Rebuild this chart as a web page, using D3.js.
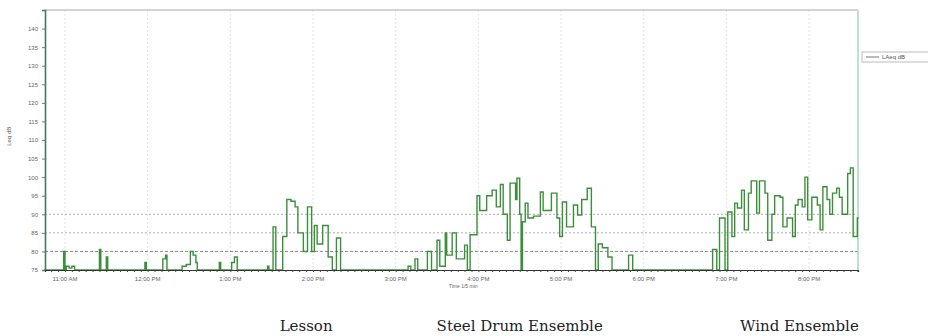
<!DOCTYPE html>
<html>
<head>
<meta charset="utf-8">
<script src="https://cdn.jsdelivr.net/npm/d3@7"></script>
<style>
  body { margin: 0; background: #fff; }
  svg { display: block; }
</style>
</head>
<body>
<div id="chart"></div>
<script>
// sound level readings, [clock time, dB]; 75 = floor of the meter range
const readings = [
  ['10:45', 75], ['10:59', 80], ['11:00', 75], ['11:01', 76], ['11:03', 75.5], ['11:05', 76], ['11:07', 75],
  ['11:25', 80.5], ['11:26', 75], ['11:30', 78.5], ['11:31', 75],
  ['11:58', 77], ['11:59', 75], ['12:11', 78], ['12:13', 79], ['12:14', 75],
  ['12:25', 76], ['12:28', 76.5], ['12:31', 80], ['12:33', 79], ['12:35', 77], ['12:36', 75],
  ['12:52', 77], ['12:53', 75], ['13:01', 77], ['13:03', 78.5], ['13:05', 75],
  ['13:27', 76], ['13:28', 75],
  // lesson
  ['13:31', 86.6], ['13:33', 75], ['13:38', 84], ['13:41', 94], ['13:44', 93.5], ['13:47', 92],
  ['13:49', 85], ['13:53', 80], ['13:56', 92], ['13:59', 80], ['14:01', 87], ['14:03', 82],
  ['14:07', 87], ['14:11', 78.5], ['14:14', 75], ['14:17', 83.6], ['14:20', 75],
  ['15:09', 76], ['15:11', 75], ['15:14', 78], ['15:16', 75], ['15:23', 80], ['15:26', 75],
  // steel drum ensemble
  ['15:30', 83], ['15:32', 76], ['15:36', 85], ['15:37', 79], ['15:41', 85], ['15:44', 78],
  ['15:50', 81.7], ['15:52', 75], ['15:54', 84.5], ['15:59', 95], ['16:01', 91], ['16:06', 95],
  ['16:10', 96.5], ['16:13', 92], ['16:16', 98], ['16:18', 90], ['16:21', 83], ['16:23', 98.4],
  ['16:27', 94], ['16:28', 99.7], ['16:30', 90], ['16:31', 75], ['16:32', 88], ['16:34', 93],
  ['16:36', 89], ['16:40', 89.5], ['16:45', 96], ['16:47', 91], ['16:53', 95.7], ['16:57', 89],
  ['16:59', 84], ['17:01', 93.3], ['17:04', 86.6], ['17:09', 92.5], ['17:12', 89.8], ['17:15', 94],
  ['17:19', 97], ['17:22', 86.6], ['17:25', 75], ['17:27', 82], ['17:30', 81], ['17:34', 78.5],
  ['17:37', 75], ['17:49', 79], ['17:52', 75],
  // wind ensemble
  ['18:50', 80.5], ['18:53', 75], ['18:55', 89], ['18:59', 75], ['19:01', 90.6], ['19:04', 84],
  ['19:06', 93], ['19:08', 91.7], ['19:11', 96.5], ['19:13', 85.8], ['19:16', 95.7], ['19:18', 99],
  ['19:22', 90.3], ['19:24', 99], ['19:28', 95.7], ['19:30', 83], ['19:33', 90], ['19:35', 95],
  ['19:39', 94.6], ['19:41', 86.6], ['19:44', 89], ['19:48', 84], ['19:50', 92.5], ['19:52', 94],
  ['19:55', 92], ['19:57', 100], ['19:59', 88.5], ['20:02', 94.6], ['20:06', 92.5], ['20:08', 85.8],
  ['20:10', 97.4], ['20:13', 94], ['20:15', 90], ['20:17', 95.7], ['20:20', 97], ['20:22', 94.6],
  ['20:24', 90], ['20:28', 101], ['20:30', 102.5], ['20:32', 84], ['20:35', 89], ['20:36', 89]
];

const timeRange = ['10:45:30', '20:35:30'];
const hourTicks = ['11:00', '12:00', '13:00', '14:00', '15:00', '16:00', '17:00', '18:00', '19:00', '20:00'];
const yTicks = [75, 80, 85, 90, 95, 100, 105, 110, 115, 120, 125, 130, 135, 140];
const yRange = [75, 145];
const limitLines = [80, 85, 90];
const sessions = [
  { name: 'Lesson', at: '13:55' },
  { name: 'Steel Drum Ensemble', at: '16:30' },
  { name: 'Wind Ensemble', at: '19:53' }
];

const width = 928;
const height = 336;
const margin = { top: 10, right: 70, bottom: 66, left: 45 };

const day = '2015-03-10 ';
const parseHM = d3.timeParse('%Y-%m-%d %H:%M');
const parseHMS = d3.timeParse('%Y-%m-%d %H:%M:%S');

const data = readings.map(d => ({ t: parseHM(day + d[0]), v: d[1] }));

const x = d3.scaleTime()
  .domain(timeRange.map(s => parseHMS(day + s)))
  .range([margin.left, width - margin.right]);

const y = d3.scaleLinear()
  .domain(yRange)
  .range([height - margin.bottom, margin.top]);

const svg = d3.select('#chart').append('svg')
  .attr('width', width)
  .attr('height', height)
  .style('font-family', 'Arial, Liberation Sans, sans-serif');

const x0 = margin.left;
const x1 = width - margin.right;
const yb = height - margin.bottom;

// vertical hour grid
svg.append('g')
  .selectAll('line')
  .data(hourTicks)
  .enter().append('line')
  .attr('x1', d => x(parseHM(day + d)))
  .attr('x2', d => x(parseHM(day + d)))
  .attr('y1', margin.top)
  .attr('y2', yb)
  .attr('stroke', '#e4e4e4')
  .attr('stroke-dasharray', '2,2');

// limit lines
svg.append('g')
  .selectAll('line')
  .data(limitLines)
  .enter().append('line')
  .attr('x1', x0)
  .attr('x2', x1)
  .attr('y1', d => y(d))
  .attr('y2', d => y(d))
  .attr('stroke', (d, i) => i === 0 ? '#888' : '#aaa')
  .attr('stroke-width', 1)
  .attr('stroke-dasharray', (d, i) => i === 0 ? '3,2' : '2,2');

// top border and right edge
svg.append('line')
  .attr('x1', x0).attr('x2', x1)
  .attr('y1', margin.top).attr('y2', margin.top)
  .attr('stroke', '#aaa');
svg.append('line')
  .attr('x1', x1).attr('x2', x1)
  .attr('y1', margin.top).attr('y2', yb)
  .attr('stroke', '#a6d6c6')
  .attr('stroke-width', 1.5);

// series
const line = d3.line()
  .x(d => x(d.t))
  .y(d => y(d.v))
  .curve(d3.curveStepAfter);

svg.append('path')
  .datum(data)
  .attr('fill', 'none')
  .attr('stroke', '#3b8f3b')
  .attr('stroke-width', 1.4)
  .attr('d', line);

// y axis
const yAxis = svg.append('g')
  .attr('transform', 'translate(' + x0 + ',0)')
  .call(d3.axisLeft(y).tickValues(yTicks).tickSize(3).tickPadding(4));
yAxis.select('.domain').attr('stroke', '#3f7a5c').attr('stroke-width', 1.6);
yAxis.selectAll('.tick line').attr('stroke', '#777');
yAxis.selectAll('text').attr('fill', '#666').style('font-size', '6px');

// x axis: baseline with dense minor ticks
const xAxis = svg.append('g')
  .attr('transform', 'translate(0,' + yb + ')')
  .call(d3.axisBottom(x).ticks(d3.timeMinute.every(5)).tickSize(2).tickFormat(''));
xAxis.select('.domain').attr('stroke', '#333').attr('stroke-width', 1.2);
xAxis.selectAll('.tick line').attr('stroke', '#444');

const fmt = d3.timeFormat('%-I:%M %p');
svg.append('g')
  .selectAll('text')
  .data(hourTicks)
  .enter().append('text')
  .attr('x', d => x(parseHM(day + d)))
  .attr('y', yb + 11)
  .attr('text-anchor', 'middle')
  .attr('fill', '#666')
  .style('font-size', '6px')
  .text(d => fmt(parseHM(day + d)));

// axis titles
svg.append('text')
  .attr('transform', 'translate(11,' + y(111) + ') rotate(-90)')
  .attr('text-anchor', 'middle')
  .attr('fill', '#555')
  .style('font-size', '6px')
  .text('Leq dB');

svg.append('text')
  .attr('x', x(parseHM(day + '15:49')))
  .attr('y', yb + 18)
  .attr('text-anchor', 'middle')
  .attr('fill', '#666')
  .style('font-size', '5px')
  .text('Time 1/5 min');

// legend
const lg = svg.append('g').attr('transform', 'translate(' + (x1 + 4) + ',52)');
lg.append('rect')
  .attr('width', 70).attr('height', 10)
  .attr('fill', '#fff')
  .attr('stroke', '#bbb');
lg.append('line')
  .attr('x1', 4).attr('x2', 17)
  .attr('y1', 5).attr('y2', 5)
  .attr('stroke', '#777');
lg.append('text')
  .attr('x', 20).attr('y', 7)
  .attr('fill', '#555')
  .style('font-size', '6px')
  .text('LAeq dB');

// session captions
svg.append('g')
  .selectAll('text')
  .data(sessions)
  .enter().append('text')
  .attr('x', d => x(parseHM(day + d.at)))
  .attr('y', 331)
  .attr('text-anchor', 'middle')
  .attr('fill', '#222')
  .style('font-family', 'DejaVu Serif, serif')
  .style('font-size', '15px')
  .text(d => d.name);
</script>
</body>
</html>
